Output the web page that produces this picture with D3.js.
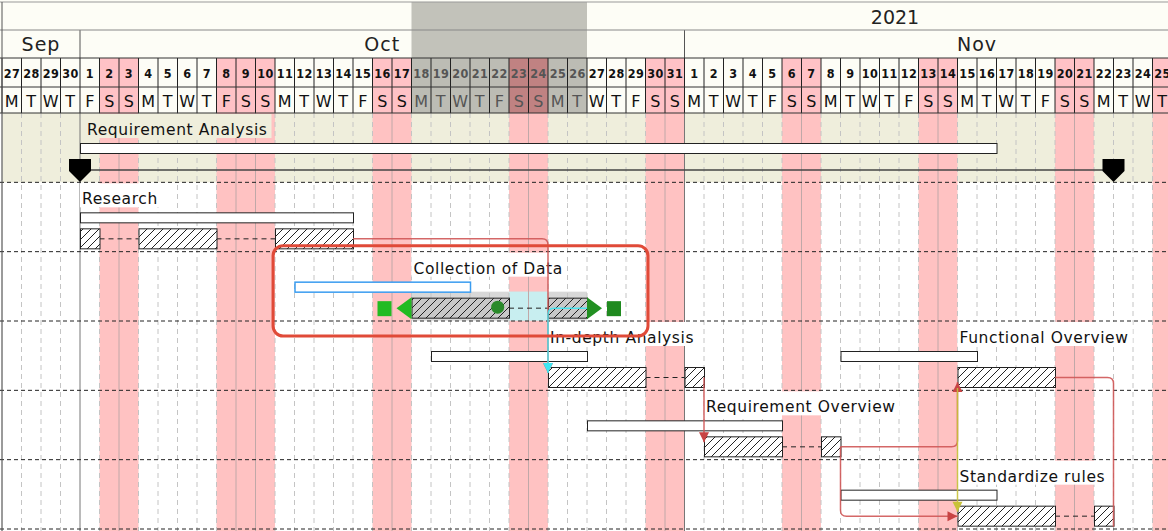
<!DOCTYPE html>
<html>
<head>
<meta charset="utf-8">
<script src="https://cdn.jsdelivr.net/npm/d3@7"></script>
<style>
body { margin: 0; background: #fff; }
svg { display: block; }
text { font-family: "DejaVu Sans", sans-serif; }
</style>
</head>
<body>
<div id="vis"></div>
<script>
const width = 1168;
const height = 531;

// ---- data ----
const firstDay = "2021-09-27";
const lastDay = "2021-11-25";
const yearLabel = "2021";
const weekdayLetters = ["S", "M", "T", "W", "T", "F", "S"];
const holidays = ["2021-10-08", "2021-11-25"];
const highlightRange = ["2021-10-18", "2021-10-26"];

const summaryName = "Requirement Analysis";
const summaryPlan = ["2021-10-01", "2021-11-16"];
const summaryActual = ["2021-10-01", "2021-11-22"];

const taskNames = ["Research", "Collection of Data", "In-depth Analysis", "Functional Overview", "Requirement Overview", "Standardize rules"];
const taskRows = [1, 2, 3, 3, 4, 5];
const planStarts = ["2021-10-01", "2021-10-12", "2021-10-19", "2021-11-09", "2021-10-27", "2021-11-09"];
const planEnds = ["2021-10-14", "2021-10-20", "2021-10-26", "2021-11-15", "2021-11-05", "2021-11-16"];
const actualSegments = [
	[["2021-10-01", "2021-10-01"], ["2021-10-04", "2021-10-07"], ["2021-10-11", "2021-10-14"]],
	[["2021-10-18", "2021-10-22"], ["2021-10-25", "2021-10-26"]],
	[["2021-10-25", "2021-10-29"], ["2021-11-01", "2021-11-01"]],
	[["2021-11-15", "2021-11-19"]],
	[["2021-11-02", "2021-11-05"], ["2021-11-08", "2021-11-08"]],
	[["2021-11-15", "2021-11-19"], ["2021-11-22", "2021-11-22"]]
];
const selectedTask = "Collection of Data";
const progressDate = "2021-10-22";

const depFrom = ["Research", "Collection of Data", "In-depth Analysis", "Requirement Overview", "Requirement Overview", "Functional Overview", "Functional Overview"];
const depTo = ["In-depth Analysis", "In-depth Analysis", "Requirement Overview", "Functional Overview", "Standardize rules", "Standardize rules", "Standardize rules"];
const depType = ["FS", "FS", "FS", "FS", "FS-down", "SS", "FF"];

// ---- scales ----
const parse = d3.utcParse("%Y-%m-%d");
const nextDay = s => d3.utcDay.offset(parse(s), 1);
const days = d3.utcDay.range(parse(firstDay), nextDay(lastDay));
const x = d3.scaleUtc()
	.domain([parse(firstDay), nextDay(lastDay)])
	.range([2, 2 + days.length * 19.5]);
const dayW = x(days[1]) - x(days[0]);

const hdr = { year: 2, month: 30, day: 58, wd: 87, body: 113 };
const rowY = d3.scaleLinear().domain([0, 6]).range([hdr.body, 529]);

const fmt = d3.utcFormat("%Y-%m-%d");
const isOff = d => d.getUTCDay() == 0 || d.getUTCDay() == 6 || holidays.includes(fmt(d));
const isHi = d => d >= parse(highlightRange[0]) && d <= parse(highlightRange[1]);

const svg = d3.select("#vis")
	.append("svg")
		.attr("width", width)
		.attr("height", height);

// hatch patterns
const defs = svg.append("defs");
[["hatch", "#ffffff"], ["hatchSel", "#c8c8c8"]].forEach(([id, bg]) => {
	const p = defs.append("pattern")
		.attr("id", id)
		.attr("patternUnits", "userSpaceOnUse")
		.attr("width", 8)
		.attr("height", 8);
	p.append("rect").attr("width", 8).attr("height", 8).attr("fill", bg);
	p.append("path")
		.attr("d", "M-2,2 l4,-4 M0,8 l8,-8 M6,10 l4,-4")
		.attr("stroke", "#222")
		.attr("stroke-width", 1);
});

// ---- body background ----
svg.append("rect")
	.attr("x", 0).attr("y", hdr.body)
	.attr("width", width).attr("height", height - hdr.body)
	.attr("fill", "#ffffff");

svg.append("rect")
	.attr("x", x(days[0])).attr("y", rowY(0))
	.attr("width", width).attr("height", rowY(1) - rowY(0))
	.attr("fill", "#efeedc");

svg.append("g")
	.selectAll("rect")
	.data(days.filter(isOff))
	.enter()
	.append("rect")
		.attr("x", d => x(d))
		.attr("y", hdr.body)
		.attr("width", dayW)
		.attr("height", height - hdr.body)
		.attr("fill", "#ffc2c2");

// label backgrounds (cover the stripes)
const labelFont = "15.5px";
const labels = [{ name: summaryName, x: x(parse(summaryPlan[0])) + 7, row: 0, bg: "#efeedc" }]
	.concat(taskNames.map((n, i) => ({ name: n, x: x(parse(actualSegments[i][0][0])) + 2, row: taskRows[i], bg: "#ffffff" })));

const labelG = svg.append("g");
labels.forEach(l => {
	const t = labelG.append("text")
		.attr("x", l.x)
		.attr("y", rowY(l.row) + 22)
		.style("font-size", labelFont)
		.style("letter-spacing", "0.6px")
		.attr("fill", "#111")
		.text(l.name);
	const w = t.node().getComputedTextLength();
	labelG.insert("rect", "text")
		.attr("x", l.x - 2)
		.attr("y", rowY(l.row) + 1)
		.attr("width", w + 6)
		.attr("height", 24)
		.attr("fill", l.bg);
});

// selection band + gap highlight of the selected task
const si = taskNames.indexOf(selectedTask);
const sSegs = actualSegments[si];
const sTop = rowY(taskRows[si]);
const selG = svg.append("g");
selG.append("rect")
	.attr("x", x(parse(sSegs[0][0])))
	.attr("y", sTop + 40)
	.attr("width", x(nextDay(sSegs[sSegs.length - 1][1])) - x(parse(sSegs[0][0])))
	.attr("height", 29)
	.attr("fill", "#d8d8d8");
for (let k = 1; k < sSegs.length; k++) {
	selG.append("rect")
		.attr("x", x(nextDay(sSegs[k - 1][1])))
		.attr("y", sTop + 40)
		.attr("width", x(parse(sSegs[k][0])) - x(nextDay(sSegs[k - 1][1])))
		.attr("height", 29)
		.attr("fill", "#c8eef0");
}

// grid lines
const grid = svg.append("g");
days.forEach((d, i) => {
	const px = x(d);
	const month = d.getUTCDate() == 1;
	const inside = i > 0 && isOff(d) && isOff(days[i - 1]);
	grid.append("line")
		.attr("x1", px).attr("x2", px)
		.attr("y1", hdr.body).attr("y2", height)
		.attr("stroke", month ? "#777" : (inside ? "#c0a8a8" : "#c4c4c4"))
		.attr("stroke-width", 1)
		.attr("stroke-dasharray", month || inside || i == 0 ? null : "5,4");
});
d3.range(1, 7).forEach(r => {
	grid.append("line")
		.attr("x1", 0).attr("x2", width)
		.attr("y1", rowY(r)).attr("y2", rowY(r))
		.attr("stroke", "#222")
		.attr("stroke-dasharray", "4,3");
});

labelG.raise();

// ---- bars ----
const bars = svg.append("g");

// summary bar
bars.append("rect")
	.attr("x", x(parse(summaryPlan[0])) + 0.5)
	.attr("y", rowY(0) + 30.5)
	.attr("width", x(nextDay(summaryPlan[1])) - x(parse(summaryPlan[0])))
	.attr("height", 10)
	.attr("fill", "#fff")
	.attr("stroke", "#222");

taskNames.forEach((n, i) => {
	const top = rowY(taskRows[i]);
	const sel = n == selectedTask;
	bars.append("rect")
		.attr("x", x(parse(planStarts[i])) + 0.5)
		.attr("y", top + 30.5)
		.attr("width", x(nextDay(planEnds[i])) - x(parse(planStarts[i])))
		.attr("height", 10)
		.attr("fill", "#fff")
		.attr("stroke", sel ? "#3a9cf0" : "#222")
		.attr("stroke-width", sel ? 1.5 : 1);

	const segs = actualSegments[i];
	for (let k = 1; k < segs.length; k++) {
		bars.append("line")
			.attr("x1", x(nextDay(segs[k - 1][1])))
			.attr("x2", x(parse(segs[k][0])))
			.attr("y1", top + 56.5).attr("y2", top + 56.5)
			.attr("stroke", "#222")
			.attr("stroke-dasharray", "5,4");
	}
	segs.forEach(s => {
		bars.append("rect")
			.attr("x", x(parse(s[0])) + 0.5)
			.attr("y", top + 46.5)
			.attr("width", x(nextDay(s[1])) - x(parse(s[0])))
			.attr("height", 20)
			.attr("fill", sel ? "url(#hatchSel)" : "url(#hatch)")
			.attr("stroke", "#222");
	});
});

// ---- dependencies ----
const taskGeo = n => {
	const i = taskNames.indexOf(n);
	const segs = actualSegments[i];
	const top = rowY(taskRows[i]);
	return {
		start: x(parse(segs[0][0])),
		end: x(nextDay(segs[segs.length - 1][1])),
		top: top + 46, bottom: top + 67, mid: top + 56.5, row: taskRows[i]
	};
};

const rounded = (pts, r) => {
	let p = `M${pts[0][0]},${pts[0][1]}`;
	for (let k = 1; k < pts.length - 1; k++) {
		const [px, py] = pts[k - 1], [cx, cy] = pts[k], [nx, ny] = pts[k + 1];
		const d1 = Math.hypot(cx - px, cy - py), d2 = Math.hypot(nx - cx, ny - cy);
		const r1 = Math.min(r, d1 / 2), r2 = Math.min(r, d2 / 2);
		p += `L${cx - (cx - px) / d1 * r1},${cy - (cy - py) / d1 * r1}`;
		p += `Q${cx},${cy} ${cx + (nx - cx) / d2 * r2},${cy + (ny - cy) / d2 * r2}`;
	}
	const l = pts[pts.length - 1];
	return p + `L${l[0]},${l[1]}`;
};

const depG = svg.append("g");
depFrom.forEach((f, i) => {
	const a = taskGeo(f), b = taskGeo(depTo[i]);
	const type = depType[i];
	let pts, arrow = true;
	if (type == "FS") {
		const ty = b.row > a.row ? b.top + 6 : b.bottom - 6;
		pts = Math.abs(a.end - b.start) < 1 ? [[b.start, a.mid], [b.start, ty]] : [[a.end, a.mid], [b.start, a.mid], [b.start, ty]];
	} else if (type == "FS-down") {
		pts = [[a.end, a.mid], [a.end, b.mid], [b.start, b.mid]];
	} else if (type == "SS") {
		pts = [[a.start, a.bottom], [b.start, b.top + 6]];
	} else {
		pts = [[a.end, a.mid], [b.end, a.mid], [b.end, b.bottom]];
		arrow = false;
	}
	const color = f == selectedTask ? "#3ee6f2" : (type == "SS" ? "#c8c23a" : "#cf5656");
	depG.append("path")
		.attr("d", rounded(pts, 6))
		.attr("fill", "none")
		.attr("stroke", color)
		.attr("stroke-width", 1.5)
		.attr("stroke-opacity", 0.9);
	if (arrow) {
		const [ex, ey] = pts[pts.length - 1], [qx, qy] = pts[pts.length - 2];
		const ang = Math.atan2(ey - qy, ex - qx) * 180 / Math.PI;
		depG.append("path")
			.attr("d", "M0,0 L-10,-5 L-10,5 Z")
			.attr("transform", `translate(${ex},${ey}) rotate(${ang})`)
			.attr("fill", type == "SS" ? "#c8c23a" : (f == selectedTask ? "#3ee6f2" : "#c84444"));
	}
});

// ---- summary milestones ----
const msY = rowY(0) + 57;
const msG = svg.append("g");
msG.append("line")
	.attr("x1", x(parse(summaryActual[0])))
	.attr("x2", x(nextDay(summaryActual[1])))
	.attr("y1", msY).attr("y2", msY)
	.attr("stroke", "#444")
	.attr("stroke-width", 1.5);
[x(parse(summaryActual[0])), x(nextDay(summaryActual[1]))].forEach(cx => {
	msG.append("path")
		.attr("d", "M-11,-11 L11,-11 L11,1 L0,12 L-11,1 Z")
		.attr("transform", `translate(${cx},${msY})`)
		.attr("fill", "#000");
});

// ---- handles on the selected task ----
const hG = svg.append("g");
const hx0 = x(parse(sSegs[0][0])), hx1 = x(nextDay(sSegs[sSegs.length - 1][1]));
const hy = sTop + 56.5;
hG.append("path").attr("d", `M${hx0},${hy - 11} L${hx0},${hy + 11} L${hx0 - 15},${hy} Z`).attr("fill", "#22bb22");
hG.append("rect").attr("x", hx0 - 34).attr("y", hy - 7).attr("width", 14).attr("height", 15).attr("fill", "#22bb22");
hG.append("path").attr("d", `M${hx1},${hy - 11} L${hx1},${hy + 11} L${hx1 + 15},${hy} Z`).attr("fill", "#229022");
hG.append("rect").attr("x", hx1 + 20).attr("y", hy - 7).attr("width", 14).attr("height", 15).attr("fill", "#1f8a1f");
hG.append("circle")
	.attr("cx", x(parse(progressDate)) + dayW * 0.42)
	.attr("cy", hy - 1)
	.attr("r", 6.5)
	.attr("fill", "#2a8a2a");

// ---- header ----
const head = svg.append("g");
head.append("rect")
	.attr("x", 0).attr("y", 0)
	.attr("width", width).attr("height", hdr.body)
	.attr("fill", "#fdfdf6");

const hiX0 = x(parse(highlightRange[0])), hiX1 = x(nextDay(highlightRange[1]));
head.append("rect")
	.attr("x", hiX0).attr("y", hdr.year)
	.attr("width", hiX1 - hiX0).attr("height", hdr.day - hdr.year)
	.attr("fill", "#c2c2ba");

const cells = head.selectAll("g.day")
	.data(days)
	.enter()
	.append("g")
		.attr("class", "day");

cells.append("rect")
	.attr("x", d => x(d))
	.attr("y", hdr.day)
	.attr("width", dayW)
	.attr("height", hdr.body - hdr.day)
	.attr("fill", d => isHi(d) ? (isOff(d) ? "#c08282" : "#bcbcb4") : (isOff(d) ? "#ffc2c6" : "none"));

cells.append("text")
	.attr("x", d => x(d) + dayW / 2)
	.attr("y", hdr.day + 20)
	.attr("text-anchor", "middle")
	.style("font-family", "'DejaVu Sans Condensed', 'DejaVu Sans', sans-serif")
	.style("font-weight", "bold")
	.style("font-size", "12.5px")
	.attr("fill", d => isHi(d) ? "#555" : "#111")
	.attr("textLength", d => d.getUTCDate() > 9 ? 16 : null)
	.text(d => d.getUTCDate());

cells.append("text")
	.attr("x", d => x(d) + dayW / 2)
	.attr("y", hdr.wd + 20)
	.attr("text-anchor", "middle")
	.style("font-size", "16px")
	.attr("fill", d => isHi(d) ? "#555" : "#111")
	.text(d => weekdayLetters[d.getUTCDay()]);

cells.append("line")
	.attr("x1", d => x(d)).attr("x2", d => x(d))
	.attr("y1", hdr.day).attr("y2", hdr.body)
	.attr("stroke", "#222");

// months
const months = d3.utcMonth.range(d3.utcMonth.floor(parse(firstDay)), nextDay(lastDay));
months.forEach(m => {
	const m0 = Math.max(x(m), x.range()[0]);
	const m1 = x(d3.utcMonth.offset(m, 1));
	head.append("text")
		.attr("x", (m0 + m1) / 2)
		.attr("y", hdr.month + 21)
		.attr("text-anchor", "middle")
		.style("font-size", "19px")
		.style("letter-spacing", "1px")
		.attr("fill", "#222")
		.text(d3.utcFormat("%b")(m));
	if (x(m) > x.range()[0]) {
		head.append("line")
			.attr("x1", x(m)).attr("x2", x(m))
			.attr("y1", hdr.month).attr("y2", hdr.day)
			.attr("stroke", "#555");
	}
});

head.append("text")
	.attr("x", x(parse("2021-11-12")) - 4)
	.attr("y", hdr.year + 22)
	.attr("text-anchor", "middle")
	.style("font-size", "19px")
	.attr("fill", "#222")
	.text(yearLabel);

[[hdr.year, "#999"], [hdr.month, "#888"], [hdr.day, "#333"], [hdr.wd, "#333"], [hdr.body, "#333"]].forEach(([y, c]) => {
	head.append("line")
		.attr("x1", 0).attr("x2", width)
		.attr("y1", y).attr("y2", y)
		.attr("stroke", c);
});
head.append("line")
	.attr("x1", x.range()[0]).attr("x2", x.range()[0])
	.attr("y1", hdr.year).attr("y2", height)
	.attr("stroke", "#555");

// ---- annotation box around the selected task ----
svg.append("rect")
	.attr("x", x(parse(planStarts[si])) - dayW * 1.1)
	.attr("y", sTop - 6)
	.attr("width", hx1 + 61 - (x(parse(planStarts[si])) - dayW * 1.1))
	.attr("height", rowY(taskRows[si] + 1) - sTop + 21)
	.attr("rx", 10)
	.attr("fill", "none")
	.attr("stroke", "#e04a38")
	.attr("stroke-width", 3);
</script>
</body>
</html>
